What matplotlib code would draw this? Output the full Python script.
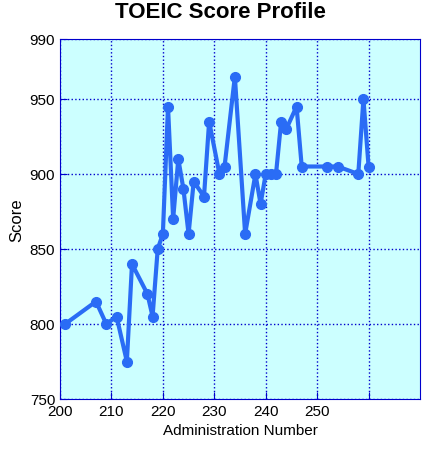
import matplotlib
matplotlib.use("Agg")
import matplotlib.pyplot as plt

admin = [201, 207, 209, 211, 213, 214, 217, 218, 219, 220, 221, 222, 223, 224, 225, 226,
         228, 229, 231, 232, 234, 236, 238, 239, 240, 241, 242, 243, 244, 246, 247,
         252, 254, 258, 259, 260]
score = [800, 815, 800, 805, 775, 840, 820, 805, 850, 860, 945, 870, 910, 890, 860, 895,
         885, 935, 900, 905, 965, 860, 900, 880, 900, 900, 900, 935, 930, 945, 905,
         905, 905, 900, 950, 905]
xticks = [200, 210, 220, 230, 240, 250, 260]
xlabels = ["200", "210", "220", "230", "240", "250", ""]
yticks = [750, 800, 850, 900, 950, 990]

plt.rcParams['font.family'] = ['Liberation Sans', 'DejaVu Sans']
fig = plt.figure(figsize=(4.4, 4.52), dpi=100)
ax = fig.add_axes([60/440, 1-400/452, 360/440, 360/452])
ax.set_facecolor('#ccffff')
ax.plot(admin, score, color='#2a6cf5', lw=3, marker='o', ms=7, zorder=3)
ax.set_xlim(200, 270)
ax.set_ylim(750, 990)
ax.set_xticks(xticks)
ax.set_xticklabels(xlabels)
ax.set_yticks(yticks)
ax.grid(True, color='#0000cc', linestyle=':', lw=1)
for s in ax.spines.values():
    s.set_color('#0000cc')
ax.tick_params(colors='#0000cc', labelcolor='black', labelsize=11, direction='in', length=5)
ax.set_xlabel('Administration Number', fontsize=11)
ax.set_ylabel('Score', fontsize=12)
fig.suptitle('TOEIC Score Profile', fontsize=16, fontweight='bold', y=0.995)
fig.savefig('out.png', dpi=100)
